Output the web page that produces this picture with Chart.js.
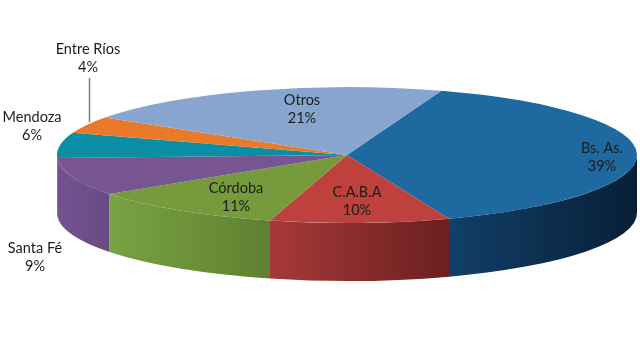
<!DOCTYPE html>
<html><head><meta charset="utf-8">
<script src="https://cdn.jsdelivr.net/npm/chart.js@4"></script>
<style>html,body{margin:0;padding:0;background:#fff;}canvas{display:block;}</style>
</head><body>
<canvas id="c" width="640" height="360"></canvas>
<script>
const categories = ["Bs. As.", "C.A.B.A", "Córdoba", "Santa Fé", "Mendoza", "Entre Ríos", "Otros"];
const shares = [39, 10, 11, 9, 6, 4, 21];
const percentLabels = ["39%", "10%", "11%", "9%", "6%", "4%", "21%"];

const topColors = ["#1E69A0", "#BE413E", "#769B3C", "#765591", "#0A8EA3", "#E87A2A", "#88A5CF"];
const sideLeft  = ["#123F68", "#A8393A", "#79A243", "#735290", "#0A8EA3", "#E87A2A", "#87A3CD"];
const sideRight = ["#071F36", "#6A1F1E", "#5E8030", "#6A4A85", "#067485", "#C0631E", "#6E8AB5"];
// label anchor positions (centre of the name line)
const labelPos = [[602,148],[357,192],[236,188],[35,248],[32,117],[88,49],[302,100]];

const ELL = {cx:347, cy:155, rx:290, ry:68, depth:58};

const pie3d = {
  id: 'pie3d',
  beforeDatasetsDraw(chart) {
    const ctx = chart.ctx;
    const meta = chart.getDatasetMeta(0);
    const a0 = meta.data[0];
    const {cx, cy, rx, ry, depth} = ELL;
    meta.data.forEach((arc, i) => {
      const s = arc.startAngle, e = arc.endAngle;
      [-2*Math.PI, 0, 2*Math.PI].forEach(k => {
        const a = Math.max(s + k, 0), b = Math.min(e + k, Math.PI);
        if (b - a <= 0.0001) return;
        const xr = cx + rx*Math.cos(a), xl = cx + rx*Math.cos(b);
        const g = ctx.createLinearGradient(xl, 0, xr, 0);
        g.addColorStop(0, sideLeft[i]);
        g.addColorStop(1, sideRight[i]);
        ctx.save();
        ctx.beginPath();
        ctx.ellipse(cx, cy, rx, ry, 0, a, b, false);
        ctx.ellipse(cx, cy + depth, rx, ry, 0, b, a, true);
        ctx.closePath();
        ctx.fillStyle = g;
        ctx.fill();
        ctx.restore();
      });
    });
    ctx.save();
    const r = a0.outerRadius;
    ctx.translate(cx, cy);
    ctx.scale(rx / r, ry / r);
    ctx.translate(-a0.x, -a0.y);
  },
  afterDatasetsDraw(chart) {
    chart.ctx.restore();
  },
  afterDraw(chart) {
    const ctx = chart.ctx;
    ctx.save();
    ctx.strokeStyle = '#7f7f7f';
    ctx.lineWidth = 1.5;
    ctx.beginPath();
    ctx.moveTo(89.5, 78);
    ctx.lineTo(89.5, 122);
    ctx.stroke();
    ctx.fillStyle = '#1c1c1c';
    ctx.font = '14.5px Lato, "Open Sans", sans-serif';
    ctx.textAlign = 'center';
    ctx.textBaseline = 'middle';
    categories.forEach((c, i) => {
      const [x, y] = labelPos[i];
      ctx.fillText(c, x, y);
      ctx.fillText(percentLabels[i], x, y + 18);
    });
    ctx.restore();
  }
};

new Chart(document.getElementById('c'), {
  type: 'pie',
  data: {
    labels: categories,
    datasets: [{
      data: shares,
      backgroundColor: topColors,
      borderWidth: 0,
      clip: false
    }]
  },
  options: {
    responsive: false,
    animation: false,
    events: [],
    rotation: 19,
    layout: {padding: 0},
    plugins: {legend: {display: false}, tooltip: {enabled: false}}
  },
  plugins: [pie3d]
});
</script>
</body></html>
